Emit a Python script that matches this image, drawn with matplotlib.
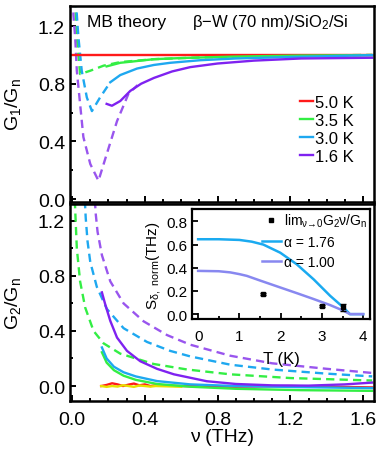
import numpy as np
import matplotlib
matplotlib.use('Agg')
import matplotlib.pyplot as plt
from matplotlib.lines import Line2D

plt.rcParams['font.family'] = ['Liberation Sans', 'DejaVu Sans']
plt.rcParams['mathtext.default'] = 'regular'

# culori
red = '#FF1A1A'
green = '#33EE44'
blue = '#1EA8F0'
purple = '#7F22F0'
purple_d = '#9955EE'
yellow = '#E8E000'

# ---- G1/Gn, date (linii continue)
nu_r = [0.0, 1.65]
g1_r = [1.0, 1.0]

nu_g1_35 = [0.19, 0.265, 0.34, 0.45, 0.6, 0.89, 1.26, 1.65]
g1_35 = [0.92, 0.945, 0.955, 0.97, 0.978, 0.988, 0.995, 0.998]
nu_g1_30 = [0.21, 0.265, 0.357, 0.45, 0.54, 0.706, 0.9, 1.2, 1.65]
g1_30 = [0.81, 0.86, 0.905, 0.93, 0.945, 0.963, 0.975, 0.985, 0.998]
nu_g1_16 = [0.19, 0.219, 0.265, 0.32, 0.38, 0.45, 0.55, 0.65, 0.8, 1.0, 1.26, 1.65]
g1_16 = [0.66, 0.647, 0.68, 0.75, 0.80, 0.84, 0.885, 0.915, 0.94, 0.96, 0.975, 0.98]

# ---- G1/Gn, teoria MB (linii punctate)
nu_mb1_35 = [0.015, 0.017, 0.026, 0.044, 0.1, 0.173, 0.265, 0.45, 0.7, 1.0, 1.65]
mb1_35 = [1.40, 1.35, 1.12, 0.867, 0.89, 0.925, 0.95, 0.97, 0.982, 0.99, 1.0]
nu_mb1_30 = [0.02, 0.022, 0.035, 0.053, 0.081, 0.109, 0.154, 0.21]
mb1_30 = [1.40, 1.35, 1.12, 0.89, 0.705, 0.61, 0.705, 0.81]
nu_mb1_16 = [0.006, 0.007, 0.017, 0.026, 0.044, 0.062, 0.1, 0.145, 0.19, 0.247, 0.31, 0.36]
mb1_16 = [1.40, 1.28, 1.12, 0.89, 0.66, 0.43, 0.243, 0.127, 0.31, 0.54, 0.73, 0.79]

# ---- G2/Gn, date
nu_g2_50 = [0.16, 0.19, 0.22, 0.25, 0.28, 0.31, 0.34, 0.37, 0.40, 0.43, 0.46, 0.6, 0.9, 1.2, 1.65]
g2_50 = [0.0, 0.008, 0.02, 0.012, 0.0, 0.01, 0.018, 0.005, 0.012, 0.0, 0.005, 0.0, -0.005, 0.0, -0.01]
nu_g2_40 = [0.16, 0.19, 0.22, 0.25, 0.28, 0.31, 0.34, 0.37, 0.40, 0.43, 0.46, 0.6]
g2_40 = [0.0, -0.006, 0.0, -0.004, 0.006, 0.0, -0.006, 0.004, 0.0, -0.004, 0.0, -0.005]
nu_g2_35 = [0.164, 0.19, 0.23, 0.283, 0.35, 0.467, 0.65, 0.9, 1.26, 1.65]
g2_35 = [0.245, 0.17, 0.115, 0.075, 0.045, 0.015, -0.005, -0.02, -0.03, -0.035]
nu_g2_30 = [0.164, 0.19, 0.23, 0.283, 0.35, 0.467, 0.65, 0.9, 1.26, 1.65]
g2_30 = [0.28, 0.20, 0.14, 0.10, 0.07, 0.036, 0.012, 0.0, -0.008, -0.015]
nu_g2_16 = [0.164, 0.182, 0.21, 0.247, 0.302, 0.375, 0.467, 0.56, 0.65, 0.74, 0.9, 1.1,
            1.3, 1.5, 1.65]
g2_16 = [0.68, 0.594, 0.473, 0.352, 0.255, 0.18, 0.125, 0.085, 0.06, 0.035, 0.015, 0.005,
         0.003, 0.012, 0.025]

# ---- G2/Gn, teoria MB
nu_mb2_35 = [0.015, 0.018, 0.026, 0.044, 0.072, 0.118, 0.173, 0.265, 0.449, 0.633, 0.87,
             1.2, 1.65]
mb2_35 = [1.35, 1.25, 1.0, 0.76, 0.57, 0.40, 0.31, 0.235, 0.16, 0.12, 0.085,
          0.058, 0.04]
nu_mb2_30 = [0.07, 0.075, 0.085, 0.10, 0.136, 0.191, 0.283, 0.412, 0.54, 0.65, 0.87,
             1.1, 1.4, 1.65]
mb2_30 = [1.35, 1.22, 1.05, 0.90, 0.72, 0.56, 0.42, 0.32, 0.255, 0.215, 0.155,
          0.12, 0.09, 0.07]
nu_mb2_16 = [0.125, 0.13, 0.14, 0.164, 0.21, 0.283, 0.393, 0.522, 0.65, 0.87, 1.1,
             1.4, 1.65]
mb2_16 = [1.35, 1.25, 1.12, 0.95, 0.76, 0.60, 0.47, 0.37, 0.30, 0.22, 0.165,
          0.125, 0.095]

# ---- inset
T_176 = [0.0, 0.5, 1.0, 1.3, 1.58, 1.99, 2.39, 2.8, 3.2, 3.52, 3.68, 4.0]
S_176 = [0.646, 0.646, 0.64, 0.625, 0.60, 0.53, 0.43, 0.30, 0.158, 0.058, 0.0, 0.0]
T_100 = [0.0, 0.5, 0.78, 1.0, 1.18, 1.5, 1.99, 2.4, 2.8, 3.2, 3.52, 3.68, 4.0]
S_100 = [0.373, 0.37, 0.36, 0.345, 0.33, 0.29, 0.23, 0.18, 0.13, 0.078, 0.03, 0.0, 0.0]
T_pts = [1.58, 3.0, 3.52]
S_pts = [0.172, 0.072, 0.058]
S_err = [0.01, 0.01, 0.03]


fig = plt.figure(figsize=(3.82, 4.56), dpi=100)
ax1 = fig.add_axes([0.183, 0.555, 0.796, 0.430])
ax2 = fig.add_axes([0.183, 0.118, 0.796, 0.432])

lw = 1.7
dash = (0, (3.5, 2.2))

ax1.plot(nu_mb1_35, mb1_35, ls=dash, color=green, lw=lw)
ax1.plot(nu_mb1_30, mb1_30, ls=dash, color=blue, lw=lw)
ax1.plot(nu_mb1_16, mb1_16, ls=dash, color=purple_d, lw=lw)
ax1.plot(nu_r, g1_r, '-', color=red, lw=lw, label='5.0 K')
ax1.plot(nu_g1_35, g1_35, '-', color=green, lw=lw, label='3.5 K')
ax1.plot(nu_g1_30, g1_30, '-', color=blue, lw=lw, label='3.0 K')
ax1.plot(nu_g1_16, g1_16, '-', color=purple, lw=lw, label='1.6 K')

ax2.plot(nu_mb2_35, mb2_35, ls=dash, color=green, lw=lw)
ax2.plot(nu_mb2_30, mb2_30, ls=dash, color=blue, lw=lw)
ax2.plot(nu_mb2_16, mb2_16, ls=dash, color=purple_d, lw=lw)
ax2.plot(nu_g2_50, g2_50, '-', color=red, lw=lw)
ax2.plot(nu_g2_40, g2_40, '-', color=yellow, lw=lw)
ax2.plot(nu_g2_35, g2_35, '-', color=green, lw=lw)
ax2.plot(nu_g2_30, g2_30, '-', color=blue, lw=lw)
ax2.plot(nu_g2_16, g2_16, '-', color=purple, lw=lw)

for ax in [ax1, ax2]:
    ax.set_xlim(-0.012, 1.66)
    ax.set_xticks([0.0, 0.4, 0.8, 1.2, 1.6])
    ax.set_xticks(np.arange(0, 1.65, 0.1), minor=True)
    ax.set_yticks([0.0, 0.4, 0.8, 1.2])
    ax.set_yticks([0.2, 0.6, 1.0], minor=True)
    ax.tick_params(which='both', direction='in', top=False, right=False,
                   labelsize=14, width=1.4)
    ax.tick_params(which='major', length=4.5)
    ax.tick_params(which='minor', length=2.5)
    ax.tick_params(axis='x', pad=7)
    for s in ax.spines.values():
        s.set_linewidth(1.8)
    ax.yaxis.set_major_formatter(matplotlib.ticker.FormatStrFormatter('%.1f'))
    ax.xaxis.set_major_formatter(matplotlib.ticker.FormatStrFormatter('%.1f'))

ax1.set_ylim(-0.02, 1.34)
ax2.set_ylim(-0.11, 1.32)
ax1.tick_params(labelbottom=False)

ax1.set_ylabel('G$_1$/G$_n$', fontsize=14)
ax2.set_ylabel('G$_2$/G$_n$', fontsize=14)
ax1.yaxis.set_label_coords(-0.155, 0.5)
ax2.yaxis.set_label_coords(-0.155, 0.5)
ax2.set_xlabel('ν (THz)', fontsize=14, labelpad=0)

ax1.text(0.055, 0.918, 'MB theory', transform=ax1.transAxes, fontsize=12.5, va='center')
ax1.text(0.40, 0.918, 'β−W (70 nm)/SiO$_2$/Si', transform=ax1.transAxes, fontsize=12, va='center')

ax1.legend(loc='center right', bbox_to_anchor=(0.96, 0.37), frameon=False,
           fontsize=12, handlelength=0.8, handletextpad=0.1, labelspacing=0.17,
           borderpad=0)

# inset
axi = fig.add_axes([0.503, 0.298, 0.466, 0.241])
l1, = axi.plot(T_176, S_176, '-', color='#1AAAF0', lw=1.8)
l2, = axi.plot(T_100, S_100, '-', color='#8888F0', lw=1.8)
axi.errorbar(T_pts, S_pts, yerr=S_err, fmt='s', color='black', ms=3.5, capsize=2,
             elinewidth=1.2)
axi.set_xlim(-0.145, 4.17)
axi.set_ylim(-0.043, 0.905)
axi.set_xticks([0, 1, 2, 3, 4])
axi.set_xticks(np.arange(0, 4.1, 0.5), minor=True)
axi.set_yticks([0.0, 0.2, 0.4, 0.6, 0.8])
axi.yaxis.set_major_formatter(matplotlib.ticker.FormatStrFormatter('%.1f'))
axi.tick_params(which='both', direction='in', labelsize=11, width=1.3)
axi.tick_params(which='major', length=4)
axi.tick_params(which='minor', length=2)
axi.tick_params(axis='x', pad=7)
for s in axi.spines.values():
    s.set_linewidth(1.6)
axi.set_xlabel('T (K)', fontsize=12, labelpad=6)
axi.set_ylabel('S$_{δ,\\ norm}$(THz)', fontsize=11, labelpad=2)

mk = Line2D([], [], ls='none', marker='s', color='black', ms=3)
axi.legend([mk, l1, l2], ['lim$_{ν→0}$G$_2$ν/G$_n$', 'α = 1.76', 'α = 1.00'],
           loc='upper right', frameon=False, fontsize=10, handlelength=1.4,
           handletextpad=0.2, labelspacing=0.4, borderpad=0.1, borderaxespad=0.1)

plt.savefig('out.png', dpi=100)
